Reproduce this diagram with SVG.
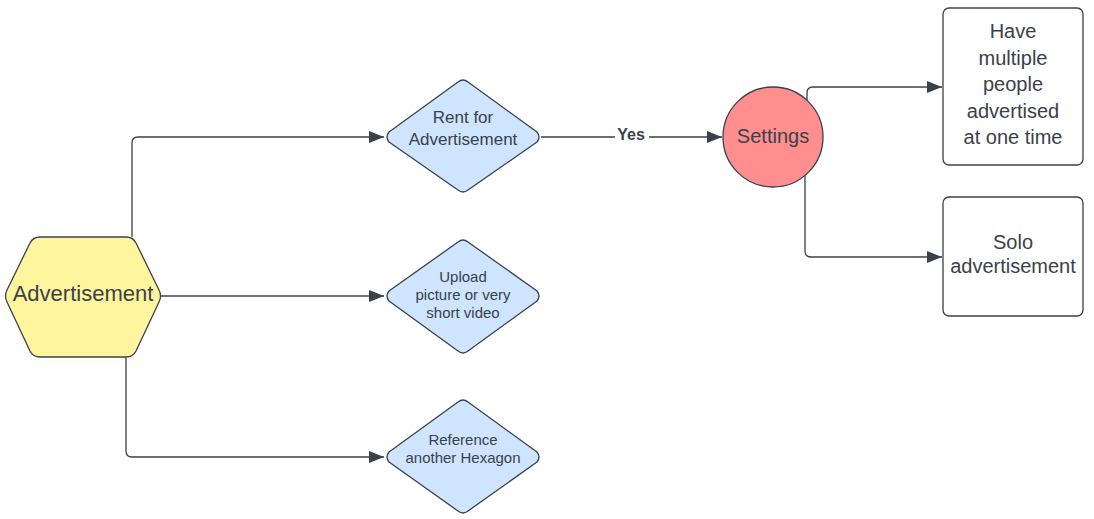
<svg xmlns="http://www.w3.org/2000/svg" width="1094" height="519" viewBox="0 0 1094 519">
<style>
text{font-family:"Liberation Sans",Arial,sans-serif;fill:#3a414a;text-anchor:middle}
.shape{stroke:#3a414a;stroke-width:1.3;stroke-linejoin:round}
.dia{fill:#cfe4ff}
.box{fill:#ffffff}
.conn{fill:none;stroke:#3a414a;stroke-width:1.3;marker-end:url(#arr)}
</style>
<defs>
<marker id="arr" markerWidth="16" markerHeight="12" refX="15" refY="6" orient="auto" markerUnits="userSpaceOnUse">
<path d="M0,0 L15,6 L0,12 Z" fill="#3a414a"/>
</marker>
</defs>
<rect width="1094" height="519" fill="#ffffff"/>
<g id="connectors">
<path class="conn" d="M132,237 V143 Q132,137 138,137 H384"/>
<path class="conn" d="M161,296 H384"/>
<path class="conn" d="M126,357 V451 Q126,457 132,457 H384"/>
<path class="conn" d="M541,137 H722"/>
<rect x="615" y="126" width="34" height="20" fill="#ffffff"/>
<text x="631" y="140" style="font-size:16px;font-weight:bold">Yes</text>
<path class="conn" d="M807,100 V93 Q807,87 813,87 H942"/>
<path class="conn" d="M805,175 V251 Q805,257 811,257 H942"/>
</g>
<g id="advertisement">
<path class="shape" d="M40,237 H126 Q133,237 136,243 L159,290 Q162,296 159,302 L136,351 Q133,357 126,357 H40 Q33,357 30,351 L7,302 Q4,296 7,290 L30,243 Q33,237 40,237 Z" fill="#fff59f"/>
<text x="83" y="301" style="font-size:22px">Advertisement</text>
</g>
<g id="rent">
<path class="shape dia" d="M458,82 Q463,78 468,82 L537,132 Q541,137 537,142 L468,190 Q463,194 458,190 L389,142 Q385,137 389,132 Z"/>
<text x="463" y="123" style="font-size:17px">Rent for</text>
<text x="463" y="145" style="font-size:17px">Advertisement</text>
</g>
<g id="upload">
<path class="shape dia" d="M458,242 Q463,238 468,242 L537,291 Q541,296 537,301 L468,351 Q463,355 458,351 L389,301 Q385,296 389,291 Z"/>
<text x="463" y="282" style="font-size:15px">Upload</text>
<text x="463" y="300" style="font-size:15px">picture or very</text>
<text x="463" y="318" style="font-size:15px">short video</text>
</g>
<g id="reference">
<path class="shape dia" d="M458,402 Q463,398 468,402 L537,452 Q541,457 537,462 L468,511 Q463,515 458,511 L389,462 Q385,457 389,452 Z"/>
<text x="463" y="445" style="font-size:15px">Reference</text>
<text x="463" y="463" style="font-size:15px">another Hexagon</text>
</g>
<g id="settings">
<circle class="shape" cx="773" cy="137" r="50" fill="#ff8f8f"/>
<text x="773" y="143" style="font-size:20px">Settings</text>
</g>
<g id="multiple">
<rect class="shape box" x="943" y="8" width="140" height="157" rx="6"/>
<text x="1013" y="38" style="font-size:20px">Have</text>
<text x="1013" y="64.5" style="font-size:20px">multiple</text>
<text x="1013" y="91" style="font-size:20px">people</text>
<text x="1013" y="117.5" style="font-size:20px">advertised</text>
<text x="1013" y="144" style="font-size:20px">at one time</text>
</g>
<g id="solo">
<rect class="shape box" x="943" y="197" width="140" height="119" rx="6"/>
<text x="1013" y="249" style="font-size:20px">Solo</text>
<text x="1013" y="273" style="font-size:20px">advertisement</text>
</g>
</svg>
